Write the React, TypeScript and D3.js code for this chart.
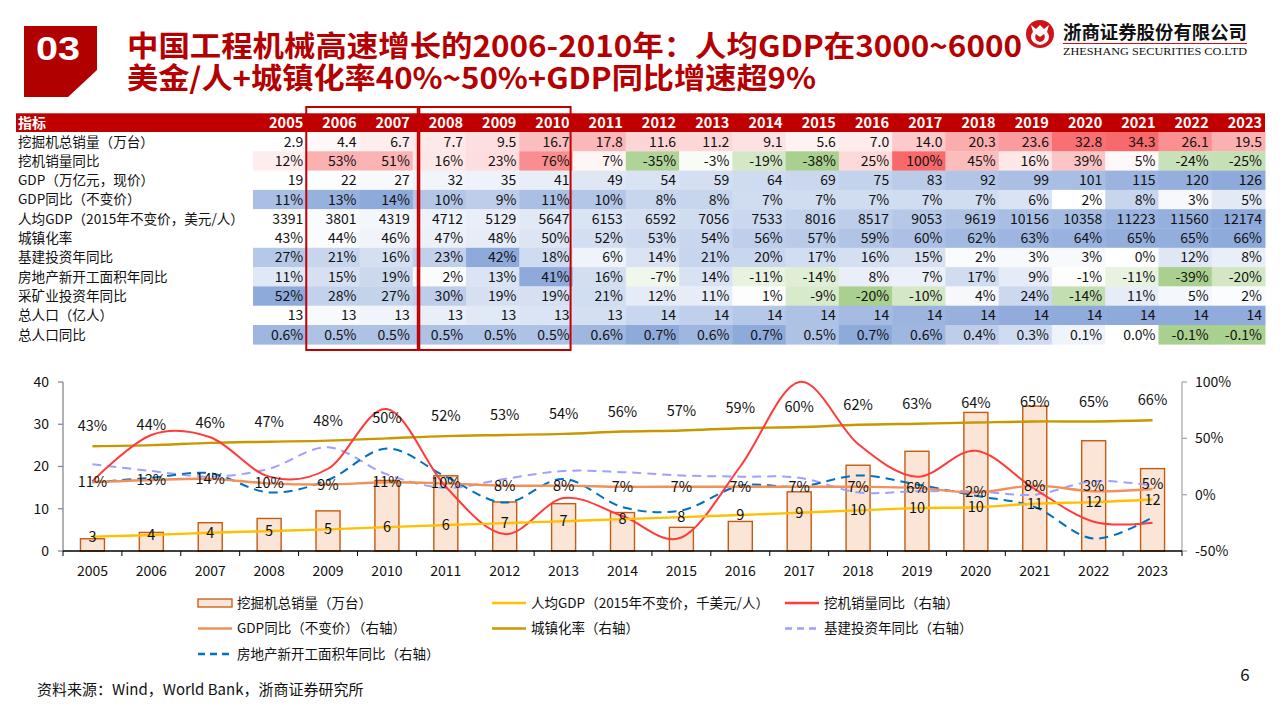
import React from 'react';
import * as d3 from 'd3';

// ---------- data ----------
const years = ['2005','2006','2007','2008','2009','2010','2011','2012','2013','2014','2015','2016','2017','2018','2019','2020','2021','2022','2023'];
const sales = [2.9,4.4,6.7,7.7,9.5,16.7,17.8,11.6,11.2,9.1,5.6,7.0,14.0,20.3,23.6,32.8,34.3,26.1,19.5];
const salesYoy = [12,53,51,16,23,76,7,-35,-3,-19,-38,25,100,45,16,39,5,-24,-25];
const gdp = [19,22,27,32,35,41,49,54,59,64,69,75,83,92,99,101,115,120,126];
const gdpYoy = [11,13,14,10,9,11,10,8,8,7,7,7,7,7,6,2,8,3,5];
const gdpPc = [3391,3801,4319,4712,5129,5647,6153,6592,7056,7533,8016,8517,9053,9619,10156,10358,11223,11560,12174];
const urban = [43,44,46,47,48,50,52,53,54,56,57,59,60,62,63,64,65,65,66];
const infra = [27,21,16,23,42,18,6,14,21,20,17,16,15,2,3,3,0,12,8];
const realEstate = [11,15,19,2,13,41,16,-7,14,-11,-14,8,7,17,9,-1,-11,-39,-20];
const mining = [52,28,27,30,19,19,21,12,11,1,-9,-20,-10,4,24,-14,11,5,2];
const population = [13.08,13.14,13.21,13.28,13.35,13.41,13.47,13.59,13.67,13.76,13.83,13.92,14.0,14.05,14.1,14.12,14.13,14.12,14.1];
const popYoy = [0.6,0.5,0.5,0.5,0.5,0.5,0.6,0.7,0.6,0.7,0.5,0.7,0.6,0.4,0.3,0.1,0.0,-0.1,-0.1];

const leftTicks = [0,10,20,30,40];
const rightTicks = [-50,0,50,100];

const titleLine1 = '中国工程机械高速增长的2006-2010年：人均GDP在3000~6000';
const titleLine2 = '美金/人+城镇化率40%~50%+GDP同比增速超9%';

// ---------- styles ----------
const FONT = '"Noto Sans CJK SC", "Noto Sans", sans-serif';
const WHITE = '#ffffff';
const BLUE = '#8eaadb';
const RED = '#f8696b';
const GREEN = '#a9d08e';
const C_BAR_FILL = '#fbe5d6';
const C_BAR_STROKE = '#c55a11';
const C_PC = '#ffc000';
const C_YOY = '#ff3b3b';
const C_GDPYOY = '#f0915a';
const C_URBAN = '#c89800';
const C_INFRA = '#9f9fff';
const C_RE = '#0070c0';
const TITLE_RED = '#b40000';

const loc = d3.formatLocale({ decimal: '.', thousands: ',', grouping: [3], currency: ['', ''], minus: '-' });

const two = (vals: number[], c: string) => {
  const s = d3.scaleLinear<string>().domain([d3.min(vals)!, d3.max(vals)!]).range([WHITE, c]);
  return (v: number) => s(v);
};
const three = (vals: number[], c: string) => {
  const s = d3.scaleLinear<string>().domain([d3.min(vals)!, 0, d3.max(vals)!]).range([GREEN, WHITE, c]).clamp(true);
  return (v: number) => s(v);
};
const pct0 = (v: number) => `${loc.format('.0f')(v)}%`;
const pct1 = (v: number) => `${loc.format('.1f')(v)}%`;
const int0 = (v: number) => loc.format('.0f')(v);
const dec1 = (v: number) => loc.format('.1f')(v);

const rows = [
  { label: '挖掘机总销量（万台）', values: sales, fmt: dec1, color: two(sales, RED) },
  { label: '挖机销量同比', values: salesYoy, fmt: pct0, color: three(salesYoy, RED) },
  { label: 'GDP（万亿元，现价）', values: gdp, fmt: int0, color: two(gdp, BLUE) },
  { label: 'GDP同比（不变价）', values: gdpYoy, fmt: pct0, color: two(gdpYoy, BLUE) },
  { label: '人均GDP（2015年不变价，美元/人）', values: gdpPc, fmt: int0, color: two(gdpPc, BLUE) },
  { label: '城镇化率', values: urban, fmt: pct0, color: two(urban, BLUE) },
  { label: '基建投资年同比', values: infra, fmt: pct0, color: two(infra, BLUE) },
  { label: '房地产新开工面积年同比', values: realEstate, fmt: pct0, color: three(realEstate, BLUE) },
  { label: '采矿业投资年同比', values: mining, fmt: pct0, color: three(mining, BLUE) },
  { label: '总人口（亿人）', values: population, fmt: (v: number) => String(Math.round(v)), color: two(population, BLUE) },
  { label: '总人口同比', values: popYoy, fmt: pct1, color: three(popYoy, BLUE) },
];

export default function App() {
  // table geometry
  const tx = d3.scaleBand<string>().domain(years).range([253, 1265]);
  const tbw = tx.bandwidth();
  const headTop = 113.3;
  const headH = 18.7;
  const rowTop = 132;
  const rowH = 19.3;

  // chart geometry
  const x = d3.scaleBand<string>().domain(years).range([63, 1182]);
  const bw = x.bandwidth();
  const cx = (i: number) => (x(years[i]) as number) + bw / 2;
  const yL = d3.scaleLinear().domain([0, 40]).range([551, 382]);
  const yR = d3.scaleLinear().domain([-50, 100]).range([551, 382]);
  const curve = d3.curveCardinal.tension(0);
  const lineL = d3.line<number>().x((_, i) => cx(i)).y((d) => yL(d)).curve(curve);
  const lineR = d3.line<number>().x((_, i) => cx(i)).y((d) => yR(d)).curve(curve);
  const pcK = gdpPc.map((v) => v / 1000);

  const legend = [
    { label: '挖掘机总销量（万台）', type: 'bar', color: C_BAR_STROKE, col: 0, row: 0 },
    { label: '人均GDP（2015年不变价，千美元/人）', type: 'line', color: C_PC, col: 1, row: 0 },
    { label: '挖机销量同比（右轴）', type: 'line', color: C_YOY, col: 2, row: 0 },
    { label: 'GDP同比（不变价）（右轴）', type: 'line', color: C_GDPYOY, col: 0, row: 1 },
    { label: '城镇化率（右轴）', type: 'line', color: C_URBAN, col: 1, row: 1 },
    { label: '基建投资年同比（右轴）', type: 'dash', color: C_INFRA, col: 2, row: 1 },
    { label: '房地产新开工面积年同比（右轴）', type: 'dash', color: C_RE, col: 0, row: 2 },
  ];
  const legColX = [198, 492, 785];
  const legRowY = [603, 628.5, 654];

  const box1L = (tx('2006') as number);
  const box1R = (tx('2008') as number) + 5;
  const box2R = (tx('2011') as number) - 2;

  return (
    <svg width={1280} height={720} style={{ position: 'absolute', left: 0, top: 0, background: '#fff' }} fontFamily={FONT}>
      {/* header badge */}
      <path d="M24,26 L97,26 L97,70 L68,97 L24,97 Z" fill="#b00000" />
      <text x={58} y={60} fill="#fff" fontSize={33} fontWeight={700} textAnchor="middle" fontFamily='"Liberation Sans", Arial, sans-serif' textLength={44} lengthAdjust="spacingAndGlyphs">03</text>
      <text x={127} y={57} fill={TITLE_RED} fontSize={29} fontWeight={700} textLength={895} lengthAdjust="spacingAndGlyphs">{titleLine1}</text>
      <text x={127} y={89} fill={TITLE_RED} fontSize={29} fontWeight={700} textLength={689} lengthAdjust="spacingAndGlyphs">{titleLine2}</text>

      {/* logo */}
      <circle cx={1040} cy={34} r={14} fill="#d0121b" />
      <path d="M1031,25 L1036,29 L1040,25 L1044,29 L1049,25 L1047,32 C1051,36 1049,44 1040,45 C1031,44 1029,36 1033,32 Z" fill="#fff" />
      <path d="M1036,34 C1034,38 1036,41 1040,42 C1044,41 1046,38 1044,34 L1040,37 Z" fill="#d0121b" />
      <text x={1063} y={39} fontSize={18.5} fontWeight={700} fill="#111" textLength={184} lengthAdjust="spacingAndGlyphs">浙商证券股份有限公司</text>
      <line x1={1063} x2={1247} y1={43.5} y2={43.5} stroke="#d0121b" strokeWidth={1.2} />
      <text x={1063} y={55} fontSize={11} fill="#111" fontFamily='"Liberation Serif", serif' textLength={184} lengthAdjust="spacingAndGlyphs">ZHESHANG SECURITIES CO.LTD</text>

      {/* table header */}
      <rect x={16} y={headTop} width={1265 - 16} height={headH} fill="#c00000" />
      <text x={18} y={headTop + headH / 2} dy="0.35em" fill="#fff" fontSize={14} fontWeight={700}>指标</text>
      {years.map((yr) => (
        <text key={yr} x={(tx(yr) as number) + tbw - 3} y={headTop + headH / 2} dy="0.35em" fill="#fff" fontSize={14.5} fontWeight={700} textAnchor="end">{yr}</text>
      ))}

      {/* table rows */}
      {rows.map((r, ri) => {
        const y0 = rowTop + ri * rowH;
        return (
          <g key={r.label}>
            {r.values.map((v, i) => (
              <rect key={i} x={tx(years[i]) as number} y={y0} width={tbw + 0.5} height={rowH + 0.3} fill={r.color(v)} />
            ))}
            <text x={18} y={y0 + rowH / 2} dy="0.36em" fontSize={13.6} fill="#111">{r.label}</text>
            {r.values.map((v, i) => (
              <text key={'t' + i} x={(tx(years[i]) as number) + tbw - 3} y={y0 + rowH / 2} dy="0.36em" fontSize={14} fill="#111" textAnchor="end">{r.fmt(v)}</text>
            ))}
          </g>
        );
      })}

      {/* highlight boxes */}
      <rect x={box1L} y={107} width={box1R - box1L} height={243} fill="none" stroke="#c00000" strokeWidth={2} />
      <rect x={box1R + 1.5} y={107} width={box2R - box1R - 1.5} height={243} fill="none" stroke="#c00000" strokeWidth={2} />

      {/* chart axes */}
      <line x1={63} x2={63} y1={382} y2={551} stroke="#888" strokeWidth={1.3} />
      {leftTicks.map((t) => (
        <g key={'l' + t}>
          <line x1={58} x2={63} y1={yL(t)} y2={yL(t)} stroke="#888" strokeWidth={1.3} />
          <text x={49} y={yL(t)} dy="0.35em" fontSize={14} textAnchor="end" fill="#111">{t}</text>
        </g>
      ))}
      <line x1={1182} x2={1182} y1={382} y2={551} stroke="#aaa" strokeWidth={1.3} />
      {rightTicks.map((t) => (
        <g key={'r' + t}>
          <line x1={1182} x2={1187} y1={yR(t)} y2={yR(t)} stroke="#aaa" strokeWidth={1.3} />
          <text x={1195} y={yR(t)} dy="0.35em" fontSize={14} textAnchor="start" fill="#111">{`${t}%`}</text>
        </g>
      ))}

      {/* bars */}
      {sales.map((v, i) => (
        <rect key={'b' + i} x={cx(i) - 12} y={yL(v)} width={24} height={yL(0) - yL(v)} fill={C_BAR_FILL} stroke={C_BAR_STROKE} strokeWidth={1.4} />
      ))}

      <line x1={63} x2={1182} y1={551} y2={551} stroke="#000" strokeWidth={1.3} />
      {years.map((yr, i) => (
        <g key={'x' + yr}>
          <line x1={x(yr) as number} x2={x(yr) as number} y1={551} y2={556} stroke="#000" strokeWidth={1} />
          <text x={cx(i)} y={571} dy="0.35em" fontSize={14} textAnchor="middle" fill="#111">{yr}</text>
        </g>
      ))}
      <line x1={1182} x2={1182} y1={551} y2={556} stroke="#000" strokeWidth={1} />

      {/* lines */}
      <path d={lineR(urban) || ''} fill="none" stroke={C_URBAN} strokeWidth={2.4} />
      <path d={lineR(infra) || ''} fill="none" stroke={C_INFRA} strokeWidth={2} strokeDasharray="9,6" />
      <path d={lineR(realEstate) || ''} fill="none" stroke={C_RE} strokeWidth={2} strokeDasharray="9,6" />
      <path d={lineR(gdpYoy) || ''} fill="none" stroke={C_GDPYOY} strokeWidth={2.4} />
      <path d={lineR(salesYoy) || ''} fill="none" stroke={C_YOY} strokeWidth={2} />
      <path d={lineL(pcK) || ''} fill="none" stroke={C_PC} strokeWidth={2.4} />

      {/* data labels */}
      {urban.map((v, i) => (
        <text key={'u' + i} x={cx(i)} y={yR(v) - 20} dy="0.35em" fontSize={14.5} textAnchor="middle" fill="#111">{pct0(v)}</text>
      ))}
      {gdpYoy.map((v, i) => (
        <text key={'g' + i} x={cx(i)} y={yR(v) - (i >= 17 ? 5 : 0)} dy="0.35em" fontSize={14.5} textAnchor="middle" fill="#111">{pct0(v)}</text>
      ))}
      {pcK.map((v, i) => (
        <text key={'p' + i} x={cx(i)} y={yL(v)} dy="0.35em" fontSize={14.5} textAnchor="middle" fill="#111">{int0(v)}</text>
      ))}

      {/* legend */}
      {legend.map((l) => {
        const lx = legColX[l.col];
        const ly = legRowY[l.row];
        return (
          <g key={l.label}>
            {l.type === 'bar' ? (
              <rect x={lx} y={ly - 4} width={34} height={8} fill={C_BAR_FILL} stroke={C_BAR_STROKE} strokeWidth={1.3} />
            ) : (
              <line x1={lx} x2={lx + 34} y1={ly} y2={ly} stroke={l.color} strokeWidth={2.5} strokeDasharray={l.type === 'dash' ? '7,5' : undefined} />
            )}
            <text x={lx + 39} y={ly} dy="0.35em" fontSize={13.5} fill="#111">{l.label}</text>
          </g>
        );
      })}

      {/* footer */}
      <text x={37} y={690} dy="0.35em" fontSize={15} fill="#111">资料来源：Wind，World Bank，浙商证券研究所</text>
      <text x={1245} y={675} dy="0.35em" fontSize={17} fill="#111" textAnchor="middle">6</text>
    </svg>
  );
}
